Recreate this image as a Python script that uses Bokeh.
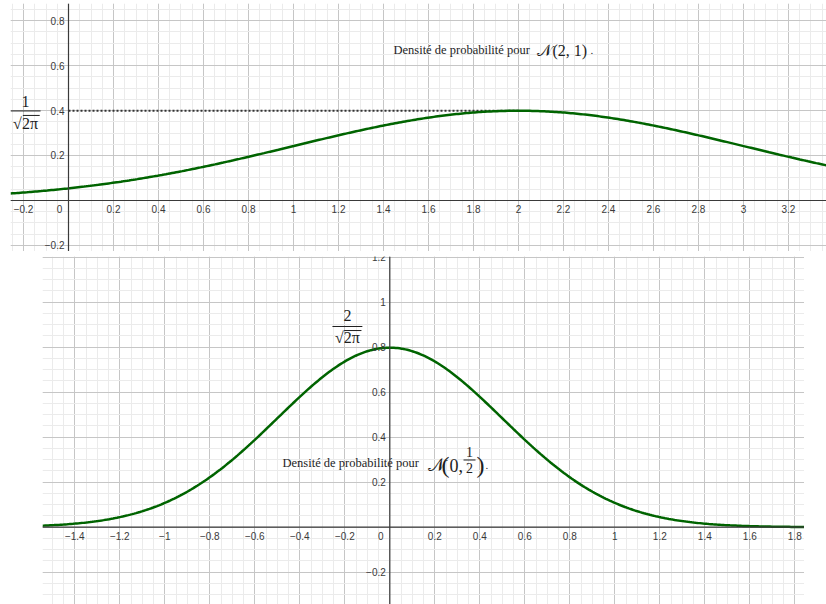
import numpy as np
from bokeh.plotting import figure
from bokeh.layouts import column
from bokeh.models import Span, SingleIntervalTicker
from bokeh.core.properties import value
from bokeh.embed import file_html
from bokeh.resources import INLINE

# Parameters of the two normal laws (mean, standard deviation)
top_mu, top_sigma = 2.0, 1.0
bot_mu, bot_sigma = 0.0, 0.5

# Tick values and their labels (the origin "0" is drawn left of the y axis)
top_x_ticks = [-0.2, 0.0, 0.2, 0.4, 0.6, 0.8, 1.0, 1.2, 1.4, 1.6, 1.8, 2.0,
               2.2, 2.4, 2.6, 2.8, 3.0, 3.2]
top_x_labels = ["\u22120.2", "0", "0.2", "0.4", "0.6", "0.8", "1", "1.2", "1.4",
                "1.6", "1.8", "2", "2.2", "2.4", "2.6", "2.8", "3", "3.2"]
top_y_ticks = [-0.2, 0.2, 0.4, 0.6, 0.8]
top_y_labels = ["\u22120.2", "0.2", "0.4", "0.6", "0.8"]

bot_x_ticks = [-1.4, -1.2, -1.0, -0.8, -0.6, -0.4, -0.2, 0.0, 0.2, 0.4, 0.6,
               0.8, 1.0, 1.2, 1.4, 1.6, 1.8]
bot_x_labels = ["\u22121.4", "\u22121.2", "\u22121", "\u22120.8", "\u22120.6",
                "\u22120.4", "\u22120.2", "0", "0.2", "0.4", "0.6", "0.8", "1",
                "1.2", "1.4", "1.6", "1.8"]
bot_y_ticks = [-0.2, 0.2, 0.4, 0.6, 0.8, 1.0, 1.2]
bot_y_labels = ["\u22120.2", "0.2", "0.4", "0.6", "0.8", "1", "1.2"]

GREEN = "#006400"
AXIS = "#3a3a3a"
INK = "#1e1e1e"
TICK_FONT = value("Liberation Sans")
SERIF = value("Liberation Serif")


def density(x, mu, sigma):
    return np.exp(-0.5 * ((x - mu) / sigma) ** 2) / (sigma * np.sqrt(2 * np.pi))


def make_panel(width, height, xr, yr, margin):
    p = figure(width=width, height=height, x_range=xr, y_range=yr,
               x_axis_location=None, y_axis_location=None,
               toolbar_location=None, output_backend="svg", margin=margin,
               min_border=0, outline_line_color=None,
               background_fill_color="white", border_fill_color="white")
    for g in (p.xgrid, p.ygrid):
        g.ticker = SingleIntervalTicker(interval=0.2, num_minor_ticks=4)
        g.grid_line_color = "#c6c6c6"
        g.grid_line_width = 1
        g.minor_grid_line_color = "#ebebeb"
        g.minor_grid_line_width = 1
    p.add_layout(Span(location=0, dimension="width", line_color=AXIS, line_width=1.2))
    p.add_layout(Span(location=0, dimension="height", line_color=AXIS, line_width=1.2))
    return p


def tick_labels(p, xt, xl, yt, yl):
    xoff = [-9 if t == 0 else 0 for t in xt]
    p.text(x=xt, y=[0] * len(xt), text=xl, x_offset=xoff, y_offset=5,
           text_align="center", text_baseline="top", text_font=TICK_FONT,
           text_font_size="10px", text_color="#3a3a3a")
    p.text(x=[0] * len(yt), y=yt, text=yl, x_offset=-4,
           text_align="right", text_baseline="middle", text_font=TICK_FONT,
           text_font_size="10px", text_color="#3a3a3a")


def txt(p, x, y, s, size, align="left", baseline="alphabetic"):
    p.text(x=[x], y=[y], text=[s], text_align=align, text_baseline=baseline,
           text_font=SERIF, text_font_size=size, text_color=INK)


def rule(p, x0, x1, y):
    p.segment(x0=[x0], y0=[y], x1=[x1], y1=[y], line_color=INK, line_width=1)


def fraction(p, num, xl, xr, y_num, y_bar, y_den, over_x0, over_y):
    xc = (xl + xr) / 2
    txt(p, xc, y_num, num, "16px", "center", "middle")
    rule(p, xl, xr, y_bar)
    txt(p, xc, y_den, "\u221a2\u03c0", "16px", "center", "middle")
    rule(p, over_x0, xr - 0.004, over_y)


# ---- Top panel: N(2, 1) ----
top = make_panel(816, 248, (-0.2578, 3.369), (-0.2267, 0.8756), (3, 0, 0, 10))
xs = np.linspace(-0.2578, 3.369, 400)
peak_top = density(top_mu, top_mu, top_sigma)
top.line([0, top_mu], [peak_top, peak_top], line_color="#333333", line_width=1.8,
         line_dash="2 2")
top.line(xs, density(xs, top_mu, top_sigma), line_color=GREEN, line_width=2.5)
tick_labels(top, top_x_ticks, top_x_labels, top_y_ticks, top_y_labels)
txt(top, 1.4444, 0.6667, "Densité de probabilité pour", "12.5px")
txt(top, 2.0844, 0.6667, "\U0001D4A9(2, 1)", "16px")
txt(top, 2.32, 0.6667, ".", "11px")
fraction(top, "1", -0.2578, -0.124, 0.44, 0.398, 0.344, -0.203, 0.378)

# ---- Bottom panel: N(0, 1/2) ----
bot = make_panel(762, 348, (-1.5436, 1.843), (-0.3436, 1.2031), (5, 0, 0, 42))
xb = np.linspace(-1.5436, 1.843, 400)
bot.line(xb, density(xb, bot_mu, bot_sigma), line_color=GREEN, line_width=2.5)
tick_labels(bot, bot_x_ticks, bot_x_labels, bot_y_ticks, bot_y_labels)
txt(bot, -0.4769, 0.2831, "Densité de probabilité pour", "12.5px")
txt(bot, 0.1676, 0.2742, "\U0001D4A9", "18px")
txt(bot, 0.2298, 0.2742, "(", "24px")
txt(bot, 0.2653, 0.2742, "0,", "18px")
txt(bot, 0.3542, 0.332, "1", "14px", "center", "middle")
rule(bot, 0.3276, 0.3809, 0.2987)
txt(bot, 0.3542, 0.2609, "2", "14px", "center", "middle")
txt(bot, 0.3853, 0.2742, ")", "24px")
txt(bot, 0.4249, 0.2742, ".", "11px")
fraction(bot, "2", -0.255, -0.122, 0.941, 0.892, 0.841, -0.203, 0.874)

layout = column(top, bot, spacing=0)
open("out.html", "w").write(file_html(layout, INLINE))
